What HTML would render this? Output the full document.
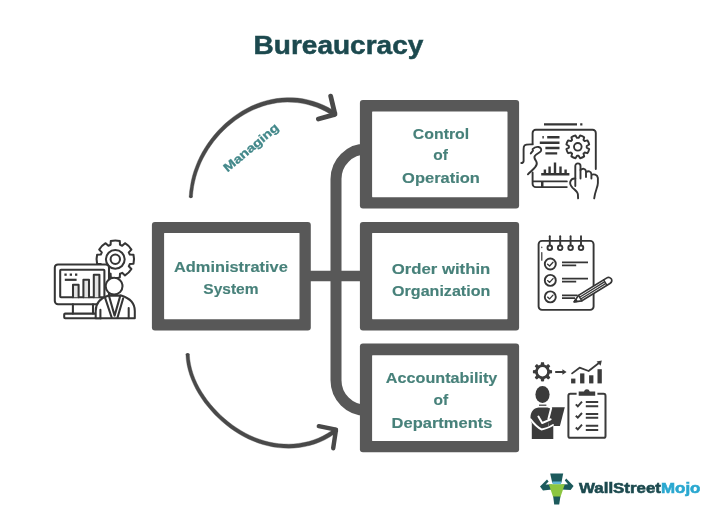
<!DOCTYPE html>
<html lang="en">
<head>
<meta charset="utf-8">
<title>Bureaucracy</title>
<style>
html,body{margin:0;padding:0;background:#fff;}
body{width:720px;height:530px;overflow:hidden;position:relative;font-family:"Liberation Sans",sans-serif;}
svg{position:absolute;left:0;top:0;display:block;}
.t{font-family:"Liberation Sans",sans-serif;font-weight:bold;}
.lbl{font-size:15.5px;fill:#47817a;stroke:#47817a;stroke-width:0.15px;text-anchor:middle;}
</style>
</head>
<body>
<svg width="720" height="530" viewBox="0 0 720 530">
<defs><filter id="soft" x="0" y="0" width="720" height="530" filterUnits="userSpaceOnUse"><feGaussianBlur stdDeviation="0.55"/></filter></defs>
<rect width="720" height="530" fill="#ffffff"/>
<g filter="url(#soft)">

<!-- title -->
<text class="t" x="253.6" y="54.2" font-size="26.2" fill="#1c4a4f" stroke="#1c4a4f" stroke-width="0.5" textLength="169.7" lengthAdjust="spacingAndGlyphs">Bureaucracy</text>

<!-- connectors -->
<g id="connectors" fill="none" stroke="#595959" stroke-width="11">
  <path d="M305 276H365" stroke-width="10.7"/>
  <path d="M361 149H366A30 30 0 0 0 336 179V380.3A30 30 0 0 0 366 410.3H361" stroke-linejoin="round"/>
</g>

<!-- boxes -->
<g id="boxes" stroke="none">
  <rect x="151.9" y="221.9" width="158.9" height="108.6" rx="3" fill="#595959"/>
  <rect x="164.1" y="232.9" width="135.4" height="86.3" rx="0.6" fill="#ffffff"/>
  <rect x="359.9" y="99.9" width="159.2" height="108.6" rx="3" fill="#595959"/>
  <rect x="372.1" y="111.5" width="135.4" height="85.7" rx="0.6" fill="#ffffff"/>
  <rect x="359.9" y="221.9" width="159.2" height="108.6" rx="3" fill="#595959"/>
  <rect x="372.1" y="232.9" width="135.4" height="86.3" rx="0.6" fill="#ffffff"/>
  <rect x="359.9" y="343.4" width="159.2" height="108.9" rx="3" fill="#595959"/>
  <rect x="372.1" y="355.2" width="135.4" height="85.8" rx="0.6" fill="#ffffff"/>
</g>

<!-- arrows -->
<g id="arrows" fill="#484848" stroke="#484848" stroke-linecap="round" stroke-linejoin="round">
  <path d="M192.4 197.1L192.9 191.9L193.6 186.8L194.6 181.8L195.8 176.9L197.3 172.1L199.0 167.4L200.9 162.8L203.1 158.3L205.5 153.9L208.1 149.6L210.9 145.4L213.9 141.3L217.1 137.4L220.5 133.6L224.0 130.0L227.8 126.5L231.7 123.2L235.7 120.1L239.9 117.2L244.2 114.5L248.7 112.1L253.2 109.8L257.9 107.9L262.6 106.2L267.4 104.8L272.3 103.7L277.2 102.8L282.2 102.3L287.2 102.1L292.1 102.2L297.1 102.6L302.1 103.3L307.0 104.3L311.8 105.7L316.6 107.3L321.2 109.2L325.7 111.4L330.1 113.9L334.4 116.7L337.0 112.7L332.6 109.9L327.9 107.3L323.1 105.0L318.2 103.0L313.1 101.3L308.0 99.9L302.8 98.8L297.6 98.1L292.3 97.8L287.1 97.7L281.8 98.0L276.6 98.6L271.5 99.5L266.4 100.7L261.3 102.2L256.4 104.0L251.5 106.1L246.8 108.5L242.2 111.0L237.7 113.9L233.4 116.9L229.2 120.2L225.2 123.6L221.4 127.2L217.7 131.0L214.2 135.0L211.0 139.1L207.9 143.3L205.0 147.7L202.4 152.1L199.9 156.7L197.7 161.4L195.8 166.2L194.0 171.1L192.5 176.0L191.3 181.1L190.4 186.3L189.6 191.5L189.2 196.9Z" stroke-width="0.4"/>
  <circle cx="190.8" cy="196.6" r="1.6" stroke="none"/>
  <path d="M330.7 96.2L335 114.4L318.4 119" fill="none" stroke-width="4.8"/>
  <path d="M185.9 354.3L186.3 359.6L187.1 364.9L188.3 370.0L189.8 375.0L191.6 379.8L193.7 384.6L196.0 389.2L198.6 393.7L201.4 398.1L204.4 402.4L207.7 406.5L211.1 410.5L214.6 414.4L218.4 418.1L222.2 421.6L226.3 425.0L230.4 428.2L234.8 431.2L239.2 434.0L243.7 436.6L248.4 438.9L253.2 441.0L258.1 442.9L263.0 444.5L268.1 445.8L273.2 446.9L278.4 447.6L283.6 448.0L288.8 448.2L294.1 448.0L299.4 447.4L304.6 446.6L309.7 445.4L314.8 443.9L319.8 442.0L324.7 439.8L329.3 437.2L333.8 434.3L337.9 431.2L335.3 427.8L331.3 430.9L327.2 433.6L322.8 436.1L318.2 438.2L313.5 440.0L308.7 441.5L303.8 442.6L298.8 443.4L293.8 444.0L288.8 444.2L283.8 444.1L278.8 443.7L273.9 443.0L268.9 442.0L264.1 440.8L259.3 439.2L254.6 437.5L250.0 435.5L245.5 433.2L241.1 430.7L236.8 428.0L232.7 425.2L228.6 422.1L224.7 418.8L220.9 415.4L217.3 411.8L213.8 408.1L210.5 404.2L207.3 400.2L204.4 396.1L201.7 391.9L199.1 387.5L196.8 383.1L194.8 378.5L193.1 373.9L191.6 369.1L190.5 364.2L189.7 359.2L189.3 354.1Z" stroke-width="0.4"/>
  <circle cx="187.6" cy="354.6" r="1.7" stroke="none"/>
  <path d="M318.8 426.2L336 429.6L333.2 448.2" fill="none" stroke-width="4.4"/>
</g>

<!-- labels -->
<text class="t" font-size="12" fill="#43888a" stroke="#43888a" stroke-width="0.3" transform="translate(227.6 172.6) rotate(-40)" textLength="68" lengthAdjust="spacingAndGlyphs">Managing</text>

<g class="t lbl">
  <text x="230.9" y="271.8" textLength="113.8" lengthAdjust="spacingAndGlyphs">Administrative</text>
  <text x="230.9" y="294.3" textLength="55.2" lengthAdjust="spacingAndGlyphs">System</text>

  <text x="441" y="139.2" textLength="56.4" lengthAdjust="spacingAndGlyphs">Control</text>
  <text x="440.6" y="160.4">of</text>
  <text x="441" y="182.5" textLength="77.8" lengthAdjust="spacingAndGlyphs">Operation</text>

  <text x="441" y="274" textLength="98.6" lengthAdjust="spacingAndGlyphs">Order within</text>
  <text x="441.2" y="295.9" textLength="98.2" lengthAdjust="spacingAndGlyphs">Organization</text>

  <text x="441.6" y="382.6" textLength="111.5" lengthAdjust="spacingAndGlyphs">Accountability</text>
  <text x="440.8" y="405">of</text>
  <text x="442" y="427.5" textLength="100.8" lengthAdjust="spacingAndGlyphs">Departments</text>
</g>

<!-- ICONS -->
<g id="icon-admin" fill="none" stroke="#363636" stroke-width="2.05" stroke-linejoin="round" stroke-linecap="round">
  <path d="M129.8 254.6L133.5 254.8A18.8 18.8 0 0 1 133.5 263.8L129.8 264.0A15.2 15.2 0 0 1 128.8 266.2L131.4 269.0A18.8 18.8 0 0 1 125.0 275.4L122.2 272.8A15.2 15.2 0 0 1 120.0 273.8L119.8 277.5A18.8 18.8 0 0 1 110.8 277.5L110.6 273.8A15.2 15.2 0 0 1 108.4 272.8L105.6 275.4A18.8 18.8 0 0 1 99.2 269.0L101.8 266.2A15.2 15.2 0 0 1 100.8 264.0L97.1 263.8A18.8 18.8 0 0 1 97.1 254.8L100.8 254.6A15.2 15.2 0 0 1 101.8 252.4L99.2 249.6A18.8 18.8 0 0 1 105.6 243.2L108.4 245.8A15.2 15.2 0 0 1 110.6 244.8L110.8 241.1A18.8 18.8 0 0 1 119.8 241.1L120.0 244.8A15.2 15.2 0 0 1 122.2 245.8L125.0 243.2A18.8 18.8 0 0 1 131.4 249.6L128.8 252.4A15.2 15.2 0 0 1 129.8 254.6Z"/>
  <circle cx="115.3" cy="259.3" r="9.4"/>
  <circle cx="115.3" cy="259.3" r="4.7"/>
  <rect x="54.8" y="264.4" width="54.2" height="39.8" rx="3.2" fill="#fff"/>
  <rect x="60.2" y="269.8" width="44.2" height="27.4" rx="0.8"/>
  <path d="M72.9 304.2V313.6M93 304.2V313.6"/>
  <rect x="64.2" y="313.6" width="38" height="4.7" rx="1"/>
  <path d="M73 297.2V284.8H78.6V297.2M83.4 297.2V279.8H89V297.2M93.8 297.2V274.8H99.4V297.2" fill="#e4e4e4"/>
  <path d="M64.8 279.8H76.6" stroke-width="2.2" stroke-linecap="butt"/>
  <g fill="#363636" stroke="none"><rect x="64.4" y="273.5" width="2.3" height="2.3"/><rect x="69.7" y="273.5" width="2.3" height="2.3"/><rect x="75" y="273.5" width="2.3" height="2.3"/></g>
  <path d="M95.7 318.3V311C95.7 303 101 298 108.6 295.6H121.2C129 298 134.8 303 134.8 311V318.3Z" fill="#fff"/>
  <path d="M108.9 295.6L114.6 315.6L120.3 295.6M105.2 298.2L111.7 317.6M123.2 298.2L117.5 317.6"/>
  <path d="M100.4 309.7V318.3M128.7 308V318.3"/>
  <circle cx="114.1" cy="286.2" r="8.4" fill="#fff"/>
</g>
<g id="icon-control" fill="none" stroke="#363636" stroke-width="1.9" stroke-linejoin="round" stroke-linecap="round">
  <path d="M544 124.4H577M580.2 124.4H582.4" stroke-width="2.2" stroke-linecap="butt"/>
  <path d="M532.6 144V133A3.2 3.2 0 0 1 535.8 129.8H592.6A3.2 3.2 0 0 1 595.8 133V169"/>
  <path d="M532.6 172.5V183.9A3.2 3.2 0 0 0 535.8 187.1H566.8M533 181.4H566.8"/>
  <path d="M541 181.4H543.5V187.1H541Z" fill="#363636" stroke="none"/>
  <path d="M547.2 137.3H559.5M539.8 142.7H559.5M545.4 148H559.5M545.4 153.4H557.2M542.4 137.3H543.8" stroke-width="2.4" stroke-linecap="butt"/>
  <path d="M586.7 147.6L589.2 149.1A11.6 11.6 0 0 1 587.4 153.2L584.6 152.5A8.9 8.9 0 0 1 583.5 153.6L584.2 156.4A11.6 11.6 0 0 1 580.1 158.2L578.6 155.7A8.9 8.9 0 0 1 577.0 155.7L575.5 158.2A11.6 11.6 0 0 1 571.4 156.4L572.1 153.6A8.9 8.9 0 0 1 571.0 152.5L568.2 153.2A11.6 11.6 0 0 1 566.4 149.1L568.9 147.6A8.9 8.9 0 0 1 568.9 146.0L566.4 144.5A11.6 11.6 0 0 1 568.2 140.4L571.0 141.1A8.9 8.9 0 0 1 572.1 140.0L571.4 137.2A11.6 11.6 0 0 1 575.5 135.4L577.0 137.9A8.9 8.9 0 0 1 578.6 137.9L580.1 135.4A11.6 11.6 0 0 1 584.2 137.2L583.5 140.0A8.9 8.9 0 0 1 584.6 141.1L587.4 140.4A11.6 11.6 0 0 1 589.2 144.5L586.7 146.0A8.9 8.9 0 0 1 586.7 147.6Z"/>
  <circle cx="577.8" cy="146.8" r="3.8"/>
  <path d="M541.2 174.3H569.4M544.9 174V169.4M549.6 174V166.4M555 174V162.6M560.5 174V166.4M565.6 174V169.4" stroke-width="2.4" stroke-linecap="butt"/>
  <path d="M532.6 144.4C528 144.2 525.6 144.4 524.6 145.4C523.4 146.6 523.6 148 523.6 150V161C523.4 162.4 522.4 163 521.3 163"/>
  <path d="M532.6 149.2C534 147.6 536.4 146.6 538.6 147C541 147.4 541.8 149.6 540.8 151.2C539.6 153 536.6 153.6 534.8 156C533.4 158 535.4 159.6 536.4 161.6C537.4 163.6 536.6 165.6 535 167.4C533 169.8 530 172 527.9 174.3"/>
  <path d="M530.8 153.4L533 150.6"/>
  <path d="M575.3 186V166A2.6 2.6 0 0 1 580.5 166V178.6"/>
  <path d="M580.5 170C582.5 168 585.6 168.4 586 171.4V177M586 172.4C588 170.6 591 171 591.4 174V178.6M591.4 175C593.6 173.6 597.4 174.6 597.9 178V183C597.9 187 595 191 594.2 198.4"/>
  <path d="M575.3 178.6C573.4 178.4 571.4 179 570.4 181.4C569.6 183.6 570.4 185.4 572.4 187.6C574.8 190 577.6 191.6 577.9 194.4L578.1 198.4"/>
</g>
<g id="icon-order" fill="none" stroke="#363636" stroke-width="1.9" stroke-linejoin="round" stroke-linecap="round">
  <rect x="538.6" y="240.9" width="55" height="69" rx="3.4"/>
  <path d="M549.8 236.2V245.4"/><circle cx="549.8" cy="247.8" r="2.3" fill="#fff"/><path d="M560.2 236.2V245.4"/><circle cx="560.2" cy="247.8" r="2.3" fill="#fff"/><path d="M570.6 236.2V245.4"/><circle cx="570.6" cy="247.8" r="2.3" fill="#fff"/><path d="M581 236.2V245.4"/><circle cx="581" cy="247.8" r="2.3" fill="#fff"/>
  <path d="M541.8 252.6V260.2M541.8 247.2V247.6" stroke-width="1.2"/>
  <circle cx="550.3" cy="264" r="5.5"/><path d="M547.6 264.2L549.6 266.0L553 262.2" stroke-width="1.3"/><circle cx="550.3" cy="280.4" r="5.5"/><path d="M547.6 280.6L549.6 282.4L553 278.6" stroke-width="1.3"/><circle cx="550.3" cy="296.9" r="5.5"/><path d="M547.6 297.1L549.6 298.9L553 295.1" stroke-width="1.3"/>
  <path d="M562 262.4H588M562 265.4H576.2M562 278.7H588M562 281.6H576.2M562 295.4H577.6M562 298.2H575" stroke-width="1.7" stroke-linecap="butt"/>
  <g transform="translate(574.2 301.8) rotate(-31.7)" stroke-width="1.4">
    <path d="M0 0L7 -3.2H40.4A3.2 3.2 0 0 1 43.6 0A3.2 3.2 0 0 1 40.4 3.2H7Z" fill="#fff" stroke-width="1.7"/>
    <path d="M7 -3.2V3.2M7 -1.05H36.6M7 1.05H36.6M36.6 -3.2V3.2"/>
    <path d="M0 0L2.6 -1.2V1.2Z" fill="#363636"/>
  </g>
</g>
<g id="icon-account" fill="#3a3a3a" stroke="none">
  <path d="M549.7 370.0L552.0 370.3A9.6 9.6 0 0 1 552.0 373.3L549.7 373.6A7.4 7.4 0 0 1 548.8 375.6L550.3 377.4A9.6 9.6 0 0 1 548.1 379.6L546.3 378.1A7.4 7.4 0 0 1 544.3 379.0L544.0 381.3A9.6 9.6 0 0 1 541.0 381.3L540.7 379.0A7.4 7.4 0 0 1 538.7 378.1L536.9 379.6A9.6 9.6 0 0 1 534.7 377.4L536.2 375.6A7.4 7.4 0 0 1 535.3 373.6L533.0 373.3A9.6 9.6 0 0 1 533.0 370.3L535.3 370.0A7.4 7.4 0 0 1 536.2 368.0L534.7 366.2A9.6 9.6 0 0 1 536.9 364.0L538.7 365.5A7.4 7.4 0 0 1 540.7 364.6L541.0 362.3A9.6 9.6 0 0 1 544.0 362.3L544.3 364.6A7.4 7.4 0 0 1 546.3 365.5L548.1 364.0A9.6 9.6 0 0 1 550.3 366.2L548.8 368.0A7.4 7.4 0 0 1 549.7 370.0ZM547.2 371.8A4.7 4.7 0 1 0 537.8 371.8A4.7 4.7 0 1 0 547.2 371.8Z" fill-rule="evenodd"/>
  <path d="M555.2 371.1H562.4V369.2L566.6 372L562.4 374.8V372.9H555.2Z"/>
  <rect x="571.1" y="378.6" width="4.3" height="4.8"/><rect x="580.1" y="373.4" width="4.3" height="10"/><rect x="589.1" y="375.3" width="4.3" height="8.1"/><rect x="597.5" y="369.2" width="4.3" height="14.2"/>
  <path d="M572.1 373.4L579.6 367.7L588.6 371L598.6 363.2" fill="none" stroke="#3a3a3a" stroke-width="1.8" stroke-linejoin="round" stroke-linecap="round"/>
  <path d="M596.6 361.4L601.8 360.6L600.6 365.8Z"/>
  <ellipse cx="542.5" cy="394.6" rx="7.1" ry="8.5"/>
  <path d="M539 404.6H546.4V405.8H539Z"/>
  <path d="M531.8 438.9V423C530 420 530 414 532.4 411C534 409 536 408 538.4 407.6H547.5C549.6 408 551 408.8 552 410.2L548 426.1H553.3V438.9Z"/>
  <path d="M551.4 407.3H564.8L559.9 426.1H548.3Z"/>
  <path d="M530.6 419.4C533.6 423.4 537.6 427.4 541.4 429.4C545 429 549.6 427 553 425M538.4 416.6L542.2 423L550.6 419.4M551.2 408L548.4 419" fill="none" stroke="#fff" stroke-width="2" stroke-linecap="round" stroke-linejoin="round"/>
  <g fill="none" stroke="#3a3a3a">
    <path d="M576.6 393.8H570.3A1.9 1.9 0 0 0 568.4 395.7V435.9A1.9 1.9 0 0 0 570.3 437.8H603.6A1.9 1.9 0 0 0 605.5 435.9V395.7A1.9 1.9 0 0 0 603.6 393.8H597.4" stroke-width="2"/>
    <path d="M585.8 402.1H598.2M585.8 406.3H598.2" stroke-width="2" stroke-linecap="butt"/><path d="M575.8 404.4L577.8 406.3L582 401.6" stroke-width="1.9"/><path d="M585.8 413.9H598.2M585.8 417.8H598.2" stroke-width="2" stroke-linecap="butt"/><path d="M575.8 415.8L577.8 417.7L582 413.0" stroke-width="1.9"/><path d="M585.8 425.7H598.2M585.8 429.9H598.2" stroke-width="2" stroke-linecap="butt"/><path d="M575.8 427.5L577.8 429.4L582 424.7" stroke-width="1.9"/>
  </g>
  <path d="M578.7 391.4H584A3 3 0 0 1 589.8 391.4H595.2V395.8H578.7Z"/>
</g>
<!-- logo -->
<g id="logo">
  <path d="M550.2 473.4H563.2L561.4 482.8H552.2Z" fill="#1d5a5c"/>
  <path d="M552.4 481.4H561.2L561 484.4H552.6Z" fill="#5fb6d6"/>
  <path d="M540 486.6L547 479.4L548.6 481.4L545.6 484.6L552 484.4V489.6L543 490.6Z" fill="#1d5a5c"/>
  <path d="M573.6 486L566.2 478.6L564.8 480.6L568 484.2L561.4 484.4V489.6L570.6 490Z" fill="#1d5a5c"/>
  <path d="M548.8 484.3H564.8L560.4 497.3H553.2Z" fill="#8cc63f"/>
  <path d="M553.2 496.6H560.4L559.2 504.6H554.2Z" fill="#1d5a5c"/>
  <text class="t" x="579" y="493.3" font-size="14.6" stroke-width="0.55" textLength="121.4" lengthAdjust="spacingAndGlyphs"><tspan fill="#1c4a4f" stroke="#1c4a4f">WallStreet</tspan><tspan fill="#2aa8d0" stroke="#2aa8d0">Mojo</tspan></text>
</g>
</g>
</svg>
</body>
</html>
